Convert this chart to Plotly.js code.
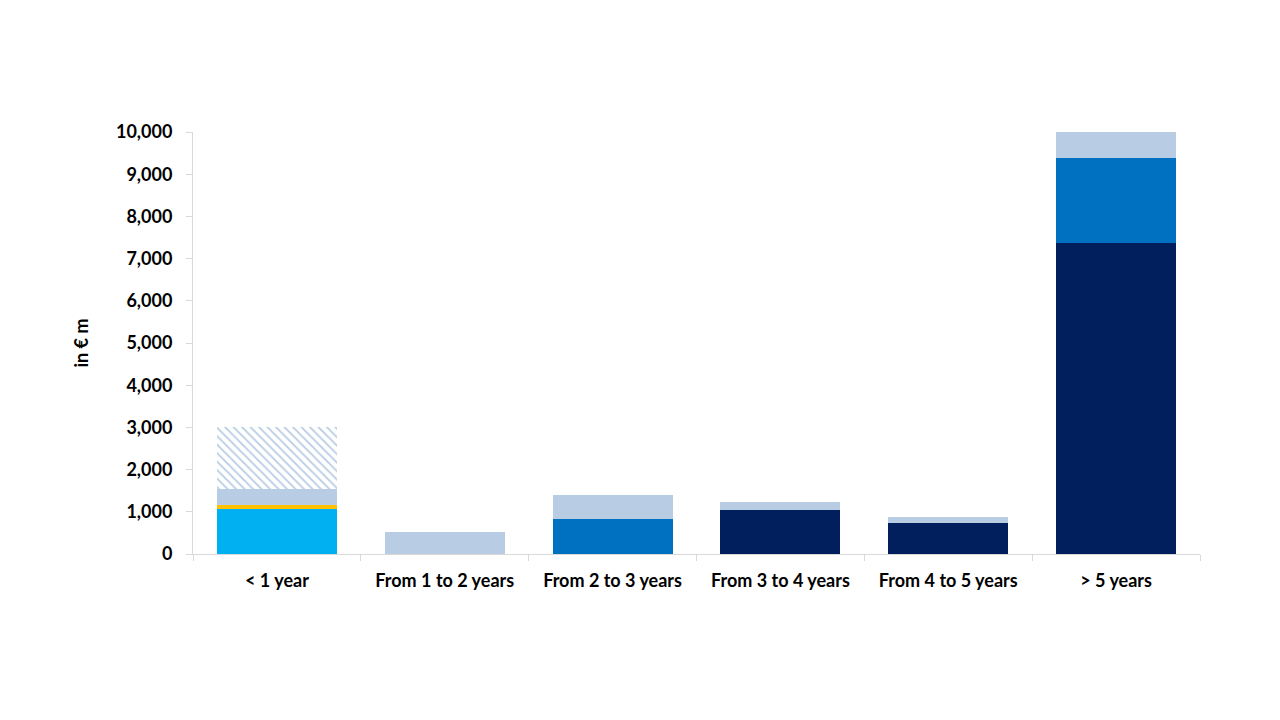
<!DOCTYPE html>
<html>
<head>
<meta charset="utf-8">
<script src="https://cdn.plot.ly/plotly-3.0.1.min.js"></script>
<style>
  html, body { margin: 0; padding: 0; background: #fff; }
  #myDiv { width: 1280px; height: 720px; }
</style>
</head>
<body>
<div id="myDiv"></div>
<script>
var categories = ["< 1 year", "From 1 to 2 years", "From 2 to 3 years", "From 3 to 4 years", "From 4 to 5 years", "> 5 years"];

// stacked segments, bottom to top (in € m)
var navyVals   = [0, 0, 0, 1040, 740, 7380];
var midVals    = [0, 0, 840, 0, 0, 2000];
var cyanVals   = [1070, 0, 0, 0, 0, 0];
var orangeVals = [100, 0, 0, 0, 0, 0];
var lightVals  = [370, 520, 560, 200, 140, 620];
var hatchVals  = [1460, 0, 0, 0, 0, 0];

var yTicks = [0, 1000, 2000, 3000, 4000, 5000, 6000, 7000, 8000, 9000, 10000];

function seg(vals, color) {
  return {
    x: categories,
    y: vals,
    type: "bar",
    marker: { color: color, line: { width: 0 } },
    hoverinfo: "y"
  };
}

var trace1 = seg(navyVals, "#001f5c");
var trace2 = seg(midVals, "#0070c0");
var trace3 = seg(cyanVals, "#00b0f0");
var trace4 = seg(orangeVals, "#ffc000");
var trace5 = seg(lightVals, "#b8cce4");
var trace6 = seg(hatchVals, "#ffffff");
trace6.marker.pattern = { shape: "\\", fgcolor: "#b8cce4", bgcolor: "#ffffff", size: 6, solidity: 0.3 };

var data = [trace1, trace2, trace3, trace4, trace5, trace6];

var lbl = { family: "Lato, sans-serif", size: 18, color: "#000000", weight: "bold" };

var layout = {
  barmode: "stack",
  bargap: 0.285,
  showlegend: false,
  paper_bgcolor: "#ffffff",
  plot_bgcolor: "#ffffff",
  margin: { l: 193, r: 80, t: 132, b: 166 },
  font: { family: "Lato, 'Open Sans', sans-serif", size: 18, color: "#000000" },
  xaxis: {
    type: "category",
    showline: true,
    linecolor: "#d9d9d9",
    linewidth: 1,
    ticks: "outside",
    tickson: "boundaries",
    ticklen: 6,
    tickcolor: "#d9d9d9",
    ticklabelstandoff: 10,
    showgrid: false,
    tickfont: lbl
  },
  yaxis: {
    range: [0, 10000],
    tickvals: yTicks,
    tickformat: ",d",
    showline: true,
    linecolor: "#d9d9d9",
    linewidth: 1,
    ticks: "outside",
    ticklen: 6,
    tickcolor: "#d9d9d9",
    ticklabelstandoff: 10,
    showgrid: false,
    zeroline: false,
    tickfont: lbl,
    title: { text: "in € m", standoff: 22, font: lbl }
  }
};

Plotly.newPlot("myDiv", data, layout, { staticPlot: true });
</script>
</body>
</html>
